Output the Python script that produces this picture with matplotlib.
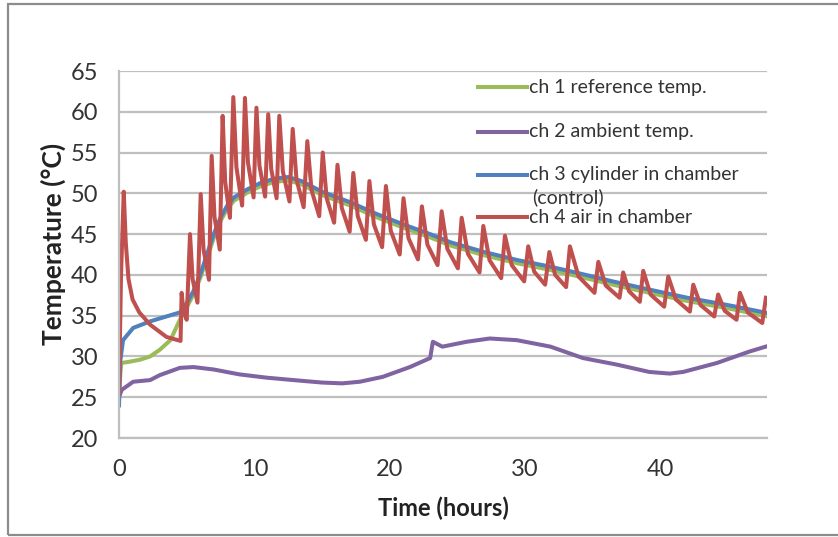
import numpy as np
import matplotlib
matplotlib.use('Agg')
import matplotlib.pyplot as plt
from matplotlib.lines import Line2D

plt.rcParams['font.family'] = ['Lato', 'DejaVu Sans']

# ch 1 reference temp.
ch1_t = [0, 0.15, 0.6, 1.55, 2.3, 3.0, 3.8, 4.5, 5.0, 5.5, 6.0, 6.5, 7.0, 7.5, 8.0, 8.5,
         9.5, 10.5, 11.5, 12.5, 13.5, 15, 17.1, 19, 21, 23, 24.5, 27, 29.5, 31.9,
         34, 36.5, 39.2, 42, 45, 47.7, 48]
ch1_T = [25, 29.2, 29.3, 29.6, 30.0, 30.8, 32.0, 34.5, 36.0, 37.6, 39.6, 42.0, 44.5, 46.6, 48.1, 49.1,
         50.1, 50.9, 51.4, 51.6, 51.1, 49.8, 48.5, 47.1, 45.8, 44.6, 43.6, 42.4, 41.4, 40.6,
         39.8, 38.8, 37.8, 36.8, 35.9, 35.0, 34.9]

# ch 2 ambient temp.
ch2_t = [0, 0.2, 1.05, 2.3, 3.0, 4.5, 5.5, 7.0, 8.9, 10.9, 12.9, 15.0, 16.5, 17.8, 19.5,
         21.5, 23.0, 23.2, 23.9, 25.7, 27.4, 29.4, 31.9, 34.3, 36.8, 39.2, 40.7, 41.7,
         44.2, 46.6, 48]
ch2_T = [25.0, 25.9, 26.9, 27.1, 27.7, 28.6, 28.7, 28.4, 27.8, 27.4, 27.1, 26.8, 26.7, 26.9, 27.5,
         28.7, 29.8, 31.8, 31.2, 31.8, 32.2, 32.0, 31.2, 29.8, 29.0, 28.1, 27.9, 28.1,
         29.2, 30.6, 31.3]

# ch 3 cylinder in chamber (control)
ch3_t = [0, 0.1, 0.3, 0.8, 1.05, 2.3, 3.5, 4.5, 5.0, 5.5, 6.0, 6.5, 7.0, 7.5, 8.0, 8.5,
         9.5, 10.5, 11.5, 12.5, 13.5, 15, 17.1, 19, 21, 23, 24.5, 27, 29.5, 31.9,
         34, 36.5, 39.2, 42, 45, 47.7, 48]
ch3_T = [24, 29.5, 32, 33.0, 33.5, 34.3, 34.9, 35.4, 36.5, 38, 40, 42.5, 45, 47, 48.5, 49.5,
         50.5, 51.3, 51.8, 52.0, 51.5, 50.2, 48.9, 47.5, 46.2, 45.0, 44.0, 42.8, 41.8, 41.0,
         40.2, 39.2, 38.2, 37.2, 36.3, 35.4, 35.3]

# ch 4 air in chamber (heater pulses: peak, knee, trough)
ch4_t = [0, 0.15, 0.35, 0.5, 0.7, 1.0, 1.5, 2.3, 3.5, 4.55,
         4.63, 4.76, 5.0, 5.25, 5.44, 5.8, 6.04, 6.25, 6.65, 6.85, 7.06, 7.45,
         7.66, 7.85, 8.2, 8.45, 8.68, 9.1, 9.31, 9.53, 9.95, 10.16, 10.38, 10.8,
         11.03, 11.25, 11.65, 11.85, 12.11, 12.6, 12.84, 13.12, 13.65, 13.92, 14.23, 14.8,
         15.06, 15.35, 15.9, 16.15, 16.47, 17.05, 17.32, 17.65, 18.25, 18.51, 18.84, 19.45,
         19.73, 20.09, 20.75, 21.03, 21.4, 22.1, 22.39, 22.8, 23.55, 23.85, 24.27, 25.05,
         25.33, 25.79, 26.65, 26.93, 27.39, 28.25, 28.53, 29.03, 29.95, 30.25, 30.69, 31.5,
         31.81, 32.24, 33.05, 33.33, 33.97, 35.15, 35.43, 35.98, 37.0, 37.27, 37.7, 38.5,
         38.75, 39.29, 40.3, 40.6, 41.16, 42.2, 42.45, 42.99, 44.0, 44.29, 44.77, 45.65,
         45.9, 46.48, 47.55, 47.82]
ch4_T = [25.5, 40, 50.2, 44, 39.5, 37, 35.4, 33.9, 32.4, 31.9,
         37.8, 35.7, 34.5, 45.0, 39.5, 36.6, 49.9, 43.1, 39.4, 54.6, 47.1, 43.1,
         59.5, 51.4, 47.0, 61.8, 53.2, 48.5, 61.7, 53.8, 49.5, 60.5, 53.4, 49.6,
         59.7, 53.0, 49.4, 59.5, 52.7, 49.0, 57.9, 51.7, 48.3, 56.4, 50.4, 47.2,
         55.0, 49.4, 46.4, 53.5, 48.2, 45.3, 52.5, 47.2, 44.3, 51.5, 46.2, 43.4,
         50.9, 45.4, 42.5, 49.4, 44.5, 41.9, 48.4, 43.7, 41.2, 47.8, 43.2, 40.8,
         47.0, 42.6, 40.3, 46.0, 41.8, 39.6, 44.8, 41.2, 39.2, 43.5, 40.4, 38.8,
         42.8, 40.0, 38.5, 43.5, 39.8, 37.8, 41.6, 38.7, 37.2, 40.3, 38.0, 36.7,
         40.5, 37.6, 36.1, 39.8, 37.0, 35.5, 38.8, 36.3, 34.9, 37.6, 35.6, 34.5,
         37.8, 35.4, 34.1, 37.2]

labels = ['ch 1 reference temp.', 'ch 2 ambient temp.',
          'ch 3 cylinder in chamber', 'ch 4 air in chamber']
colors = ['#9BBB59', '#8064A2', '#4F81BD', '#C0504D']

fig = plt.figure(figsize=(8.38, 5.37), dpi=100)
ax = fig.add_axes([119 / 838, 1 - 438 / 537, 648 / 838, 367 / 537])

# outer chart border
fig.add_artist(plt.Rectangle((8 / 838, 2 / 537), 1.2, 531 / 537, transform=fig.transFigure,
                             fill=False, edgecolor='#8c8c8c', linewidth=1.6))

lw = 2.9
ax.plot(ch1_t, ch1_T, color=colors[0], lw=lw)
ax.plot(ch2_t, ch2_T, color=colors[1], lw=lw)
ax.plot(ch3_t, ch3_T, color=colors[2], lw=lw)
ax.plot(ch4_t, ch4_T, color=colors[3], lw=lw)

ax.set_xlim(0, 47.9)
ax.set_ylim(20, 65)
ax.set_yticks(np.arange(20, 66, 5))
ax.set_xticks([0, 10, 20, 30, 40])
ax.grid(axis='y', color='#bfbfbf', lw=1.6)
ax.set_axisbelow(True)
for s in ['top', 'right']:
    ax.spines[s].set_visible(False)
for s in ['left', 'bottom']:
    ax.spines[s].set_color('#bfbfbf')
    ax.spines[s].set_linewidth(1.6)
ax.tick_params(length=0, labelsize=17, colors='#333333')
ax.tick_params(axis='x', pad=15)
ax.tick_params(axis='y', pad=15)

ax.set_xlabel('Time (hours)', fontsize=17, fontweight='bold', color='#222222')
ax.set_ylabel('Temperature (\u00b0C)', fontsize=19, fontweight='bold', color='#222222')
ax.xaxis.set_label_coords(0.5, -0.16)
ax.yaxis.set_label_coords(-0.082, 0.53)

# legend drawn inside plot area, like the original
leg_y = [0.956, 0.834, 0.717, 0.602]
for y, c, lab in zip(leg_y, colors, labels):
    ax.add_line(Line2D([0.554, 0.630], [y, y], transform=ax.transAxes, color=c, lw=lw))
    ax.text(0.633, y, lab, transform=ax.transAxes, va='center', ha='left',
            fontsize=14, color='#333333')
ax.text(0.638, 0.657, '(control)', transform=ax.transAxes, va='center', ha='left',
        fontsize=14, color='#333333')

fig.savefig('out.png', dpi=100)
